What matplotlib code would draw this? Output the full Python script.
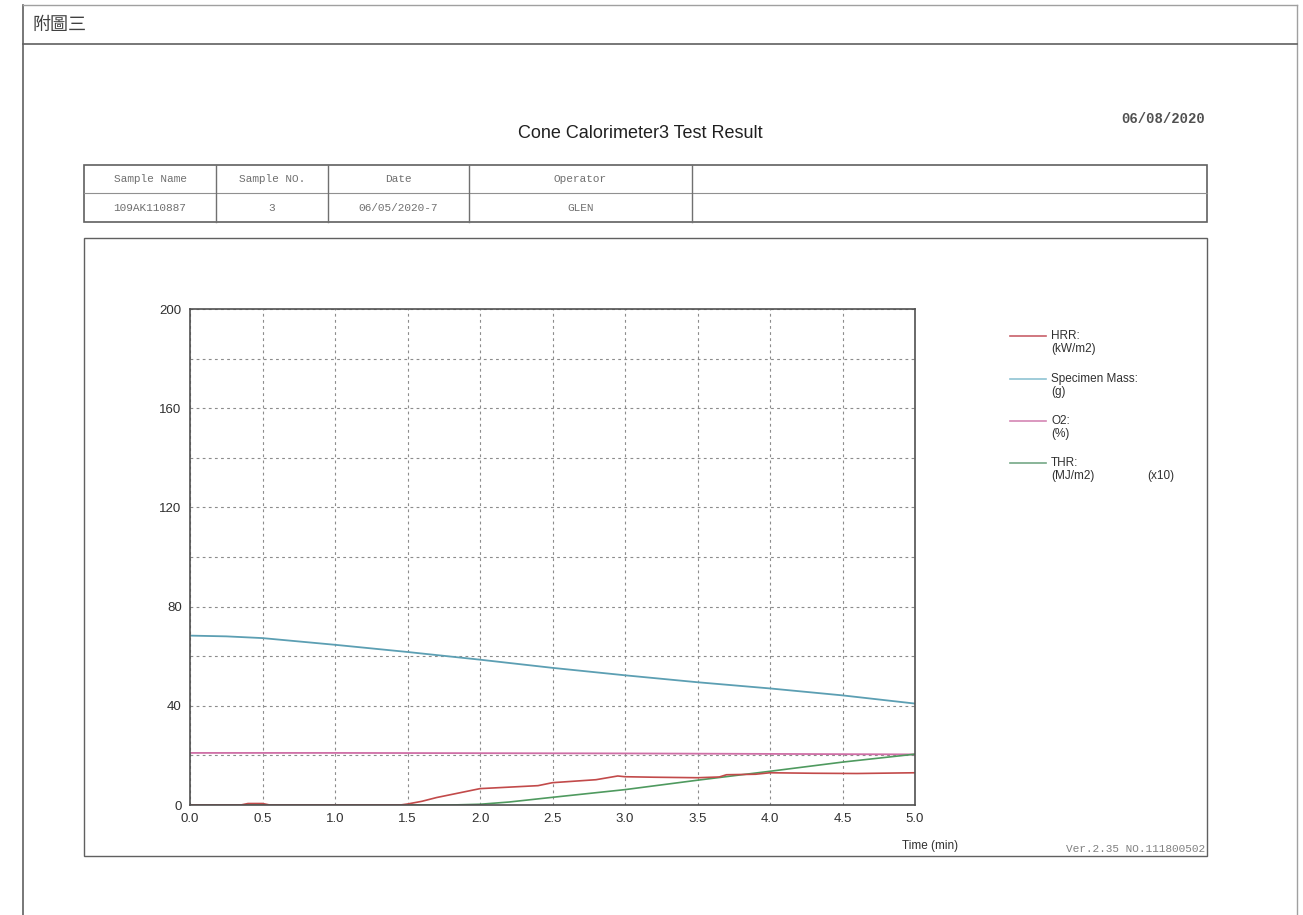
import numpy as np
import matplotlib.pyplot as plt
from matplotlib.lines import Line2D
from matplotlib.patches import Rectangle
from matplotlib.ticker import MultipleLocator, FormatStrFormatter

plt.rcParams['font.family'] = ['Liberation Sans', 'DejaVu Sans']

# values (time in min)
mass_t = [0.0, 0.25, 0.5, 1.0, 1.5, 2.0, 2.5, 3.0, 3.5, 4.0, 4.5, 5.0]
mass_g = [68.3, 68.0, 67.3, 64.6, 61.7, 58.6, 55.3, 52.3, 49.5, 47.0, 44.2, 40.9]

o2_t = [0.0, 1.0, 2.0, 3.0, 4.0, 5.0]
o2_pct = [21.0, 21.0, 20.9, 20.8, 20.6, 20.4]

hrr_t = [0.0, 0.35, 0.4, 0.5, 0.55, 1.45, 1.5, 1.6, 1.7, 1.8, 1.9, 2.0, 2.2, 2.4,
         2.5, 2.6, 2.8, 2.95, 3.0, 3.2, 3.5, 3.65, 3.7, 3.9, 4.0, 4.3, 4.6, 5.0]
hrr_kw = [0.0, 0.0, 0.6, 0.6, 0.0, 0.0, 0.4, 1.5, 3.0, 4.2, 5.4, 6.6, 7.2, 7.8,
          9.0, 9.4, 10.2, 11.7, 11.4, 11.2, 11.0, 11.3, 12.2, 12.4, 13.0, 12.8, 12.7, 13.0]

thr_t = [0.0, 1.8, 2.0, 2.2, 2.5, 3.0, 3.5, 4.0, 4.5, 5.0]
thr_x10 = [0.0, 0.0, 0.3, 1.2, 3.1, 6.2, 10.0, 13.6, 17.3, 20.5]

legend_names = ["HRR:", "Specimen Mass:", "O2:", "THR:"]
legend_units = ["(kW/m2)", "(g)", "(%)", "(MJ/m2)"]
legend_colors = ["#c8606a", "#8fc3d3", "#d486b4", "#74a886"]

table_head = ["Sample Name", "Sample NO.", "Date", "Operator", ""]
table_row = ["109AK110887", "3", "06/05/2020-7", "GLEN", ""]
col_edges = [84, 216, 328, 469, 692, 1207]

W, H = 1303, 915
fig = plt.figure(figsize=(W / 100, H / 100), dpi=100)


def fx(x):
    return x / W


def fy(y):
    return 1 - y / H


def hline(x0, x1, y, c="#707070", lw=1.0):
    fig.add_artist(Line2D([fx(x0), fx(x1)], [fy(y), fy(y)], color=c, lw=lw))


def vline(x, y0, y1, c="#707070", lw=1.0):
    fig.add_artist(Line2D([fx(x), fx(x)], [fy(y0), fy(y1)], color=c, lw=lw))


# page frame
vline(23, 5, 915, c="#606060", lw=1.2)
vline(1297, 5, 915, c="#a0a0a0", lw=1.0)
hline(23, 1297, 5, c="#a0a0a0", lw=1.0)
hline(23, 1297, 44, c="#606060", lw=1.2)
fig.text(fx(33), fy(25), "附圖三", fontsize=13, color="#404040", va="center",
         family=['Noto Sans CJK TC', 'DejaVu Sans'])

fig.text(fx(640), fy(133), "Cone Calorimeter3 Test Result", fontsize=13,
         color="#202020", ha="center", va="center")
fig.text(fx(1205), fy(119), "06/08/2020", fontsize=10, color="#505050",
         ha="right", va="center", family="Liberation Mono", weight="bold")

# header table
fig.add_artist(Rectangle((fx(84), fy(222)), fx(1207 - 84), (222 - 165) / H,
                         fill=False, ec="#606060", lw=1.2))
hline(84, 1207, 193, c="#909090", lw=0.8)
for x in col_edges[1:-1]:
    vline(x, 165, 222, c="#707070", lw=1.0)
for i in range(len(table_head)):
    cx = (col_edges[i] + col_edges[i + 1]) / 2
    fig.text(fx(cx), fy(179), table_head[i], fontsize=8, color="#707070",
             ha="center", va="center", family="Liberation Mono")
    fig.text(fx(cx), fy(208), table_row[i], fontsize=8, color="#707070",
             ha="center", va="center", family="Liberation Mono")

# chart panel
fig.add_artist(Rectangle((fx(84), fy(856)), fx(1207 - 84), (856 - 238) / H,
                         fill=False, ec="#606060", lw=1.0))

ax = fig.add_axes([fx(190), fy(805), fx(915 - 190), (805 - 309) / H])
ax.plot(mass_t, mass_g, color="#5c9fb3", lw=1.3)
ax.plot(o2_t, o2_pct, color="#cf6fa6", lw=1.3)
ax.plot(thr_t, thr_x10, color="#4f9a5f", lw=1.2)
ax.plot(hrr_t, hrr_kw, color="#c24a4a", lw=1.2)

ax.set_xlim(0, 5)
ax.set_ylim(0, 200)
ax.xaxis.set_major_locator(MultipleLocator(0.5))
ax.xaxis.set_major_formatter(FormatStrFormatter("%.1f"))
ax.yaxis.set_major_locator(MultipleLocator(40))
ax.yaxis.set_minor_locator(MultipleLocator(20))
ax.grid(True, which="both", color="#8c8c8c", lw=0.8, linestyle=(0, (2.5, 3)))
ax.tick_params(which="both", length=0, labelsize=9.5, colors="#303030", pad=6)
for s in ax.spines.values():
    s.set_color("#505050")
    s.set_linewidth(1.2)

fig.text(fx(930), fy(846), "Time (min)", fontsize=8.5, color="#303030",
         ha="center", va="center")
fig.text(fx(1205), fy(849), "Ver.2.35 NO.111800502", fontsize=8, color="#808080",
         ha="right", va="center", family="Liberation Mono")

# legend
ly = [336, 379, 421, 463]
for i in range(4):
    hline(1010, 1046, ly[i], c=legend_colors[i], lw=1.2)
    fig.text(fx(1051), fy(ly[i]), legend_names[i], fontsize=8.5, color="#303030",
             va="center")
    fig.text(fx(1051), fy(ly[i] + 13), legend_units[i], fontsize=8.5,
             color="#303030", va="center")
fig.text(fx(1147), fy(476), "(x10)", fontsize=8.5, color="#303030", va="center")

fig.savefig("out.png", dpi=100)
